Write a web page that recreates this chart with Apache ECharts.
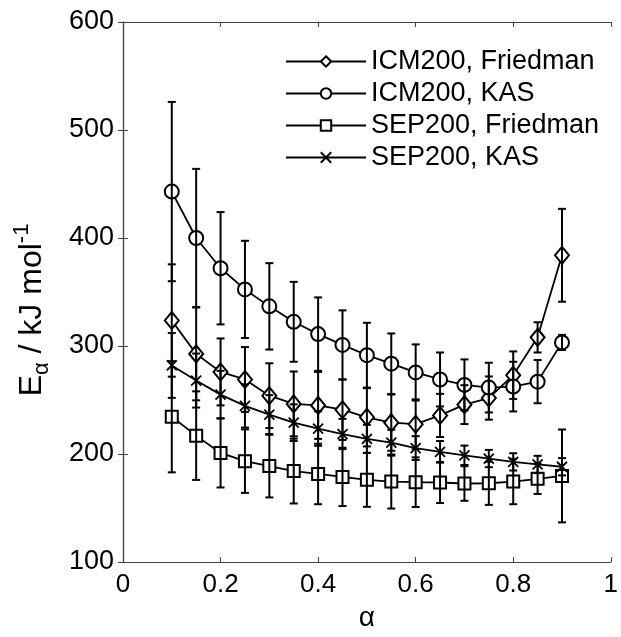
<!DOCTYPE html>
<html><head><meta charset="utf-8">
<script src="https://cdn.jsdelivr.net/npm/echarts@6/dist/echarts.min.js"></script>
<style>html,body{margin:0;padding:0;background:#fff}#c{width:621px;height:637px}</style>
</head><body><div id="c"></div>
<script>
var alpha = [0.1,0.15,0.2,0.25,0.3,0.35,0.4,0.45,0.5,0.55,0.6,0.65,0.7,0.75,0.8,0.85,0.9];
var icmFriedman = [323.6,292.7,276,269,254,246.4,245,241,234,229,227.6,235.7,245.7,251.8,273,308,384];
var icmFriedmanErr = [52,43,31,30,30,30,31,28,27,26,23,20,18,20,22,14,43];
var icmKAS = [443,400,372,352.4,336.7,322.4,311,301,291.5,283.6,275.5,269,264,261.5,262.4,267,303.3];
var icmKASErr = [83,64,52,45,40,37,34,32,30,28,26,25,23.6,23,23,20,7];
var sepFriedman = [234.5,217,201,193.4,188.8,184.2,181.5,178.8,176.1,174.5,173.9,173.6,172.7,172.9,174.5,177,179.7];
var sepFriedmanErr = [51.5,41,32,29.4,29,30,28,27,25,25,23,19,16,20,21,14,43];
var sepKAS = [282,268,255,244.5,236.5,229,223.6,218.5,214,210.5,205.5,202,198.8,195.8,192.7,190.3,188.2];
var sepKASErr = [30,25,22,20,18,17,16,14,13,12,11,10,9,8,8,8,8];
var names = ['ICM200, Friedman','ICM200, KAS','SEP200, Friedman','SEP200, KAS'];
var xTicks = [0,0.2,0.4,0.6,0.8,1];
var yTicks = [100,200,300,400,500,600];

var FONT = 'Liberation Sans, Arial, sans-serif';
function pts(v){ return alpha.map(function(a,i){return [a,v[i]];}); }
function errPts(v,e){ return alpha.map(function(a,i){return [a,v[i],e[i]];}); }
function errSeries(v,e){
  return {
    type:'custom', z:5, silent:true, data: errPts(v,e),
    renderItem:function(params, api){
      var x = api.value(0), y = api.value(1), d = api.value(2);
      var top = api.coord([x,y+d]), bot = api.coord([x,y-d]);
      var w = 4;
      var st = {stroke:'#000', lineWidth:2, fill:null};
      return {type:'group', children:[
        {type:'line', shape:{x1:top[0],y1:top[1],x2:bot[0],y2:bot[1]}, style:st},
        {type:'line', shape:{x1:top[0]-w,y1:top[1],x2:top[0]+w,y2:top[1]}, style:st},
        {type:'line', shape:{x1:bot[0]-w,y1:bot[1],x2:bot[0]+w,y2:bot[1]}, style:st}
      ]};
    }
  };
}
function lineSeries(name, v, symbol, size){
  return {
    name:name, type:'line', data:pts(v), symbol:symbol, symbolSize:size, z:3,
    lineStyle:{color:'#000', width:1.8}, itemStyle:{color:'#000', borderColor:'#000', borderWidth:1.8},
    emphasis:{disabled:true}, animation:false
  };
}
var xSym = 'path://M0,0L10,10M10,0L0,10';
var chart = echarts.init(document.getElementById('c'), null, {renderer:'canvas'});
var axisLine = {show:true, lineStyle:{color:'#444', width:1.2}};
var tick = {show:true, inside:true, length:5, lineStyle:{color:'#444', width:1}};
chart.setOption({
  animation:false,
  backgroundColor:'#fff',
  grid:{left:123, right:5, top:22, bottom:65},
  legend:{
    data:names, orient:'vertical', left:280, top:43, itemWidth:80, itemHeight:13, itemGap:5,
    textStyle:{fontFamily:FONT, fontSize:27, color:'#000'}, inactiveColor:'#000', selectedMode:false
  },
  xAxis:[{
    type:'value', min:0, max:1, interval:0.2, position:'bottom',
    axisLine:axisLine, axisTick:tick, splitLine:{show:false},
    axisLabel:{fontFamily:FONT, fontSize:26, color:'#000', margin:10,
      formatter:function(v){ return xTicks.indexOf(Math.round(v*10)/10)>=0 ? String(Math.round(v*10)/10) : ''; }},
    name:'α', nameLocation:'middle', nameGap:42,
    nameTextStyle:{fontFamily:FONT, fontSize:28, color:'#000'}
  },{
    type:'value', min:0, max:1, interval:0.2, position:'top',
    axisLine:axisLine, axisTick:tick, axisLabel:{show:false}, splitLine:{show:false}
  }],
  yAxis:[{
    type:'value', min:100, max:600, interval:100, position:'left',
    axisLine:axisLine, axisTick:tick, splitLine:{show:false},
    axisLabel:{fontFamily:FONT, fontSize:27, color:'#000', margin:9,
      formatter:function(v){ return yTicks.indexOf(v)>=0 ? String(v) : ''; }},
    name:'{a|E}{s|α}{a| / kJ mol}{p|-1}', nameLocation:'middle', nameGap:70,
    nameTextStyle:{fontFamily:FONT, fontSize:32, color:'#000', padding:[0,36,0,0],
      rich:{
        a:{fontFamily:FONT, fontSize:32, color:'#000', lineHeight:42, verticalAlign:'middle'},
        s:{fontFamily:FONT, fontSize:22, color:'#000', lineHeight:42, verticalAlign:'bottom'},
        p:{fontFamily:FONT, fontSize:22, color:'#000', lineHeight:42, verticalAlign:'top'}
      }}
  },{
    type:'value', min:100, max:600, interval:100, position:'right',
    axisLine:axisLine, axisTick:tick, axisLabel:{show:false}, splitLine:{show:false}
  }],
  series:[
    lineSeries(names[0], icmFriedman, 'emptyDiamond', [14,17]),
    lineSeries(names[1], icmKAS, 'emptyCircle', 14),
    lineSeries(names[2], sepFriedman, 'emptyRect', 12),
    lineSeries(names[3], sepKAS, xSym, 10),
    errSeries(icmFriedman, icmFriedmanErr),
    errSeries(icmKAS, icmKASErr),
    errSeries(sepFriedman, sepFriedmanErr),
    errSeries(sepKAS, sepKASErr)
  ]
});
</script></body></html>
